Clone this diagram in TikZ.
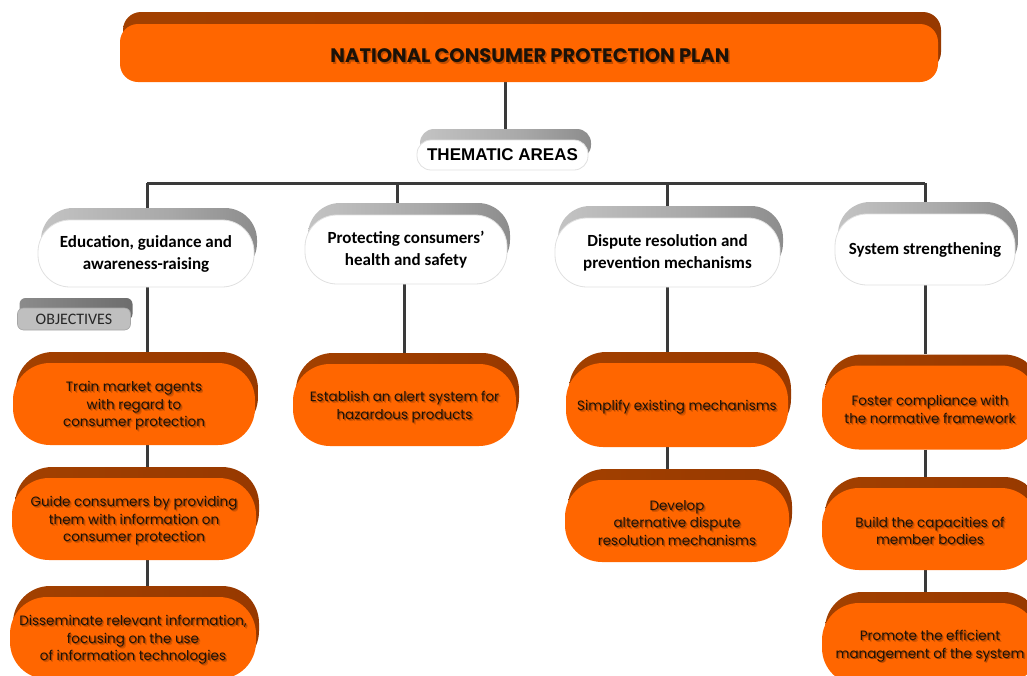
\documentclass[tikz,border=0pt]{standalone}
\usepackage{fontspec}
\usetikzlibrary{backgrounds}
\newfontfamily\gothic{Poppins}
\newfontfamily\calib{Carlito}
\newfontfamily\arialf{Liberation Sans}

\definecolor{orfront}{HTML}{FF6600}
\definecolor{orA}{HTML}{A84400}
\definecolor{orB}{HTML}{963800}
\definecolor{orC}{HTML}{4A1800}
\definecolor{grA}{HTML}{DADADA}
\definecolor{grB}{HTML}{A8A8A8}
\definecolor{grC}{HTML}{6A6A6A}
\definecolor{obA}{HTML}{9A9A9A}
\definecolor{obB}{HTML}{5E5E5E}
\definecolor{ink}{HTML}{1C1208}
\definecolor{wire}{HTML}{3A3A3A}

\pgfdeclarehorizontalshading{orbev}{100bp}{color(0bp)=(orA); color(80bp)=(orB); color(100bp)=(orC)}
\pgfdeclarehorizontalshading{grbev}{100bp}{color(0bp)=(grA); color(55bp)=(grB); color(100bp)=(grC)}
\pgfdeclarehorizontalshading{obbev}{100bp}{color(0bp)=(obA); color(100bp)=(obB)}

\tikzset{
  obback/.style={rectangle, rounded corners=37pt, inner sep=0pt, shade, shading=orbev},
  obfront/.style={rectangle, rounded corners=37pt, inner sep=0pt, fill=orfront},
  obtext/.style={font=\gothic\fontsize{13.5}{17.5}\selectfont, align=center, text=ink, inner sep=0pt},
  whback/.style={rectangle, rounded corners=32pt, inner sep=0pt, shade, shading=grbev},
  whfront/.style={rectangle, rounded corners=32pt, inner sep=0pt, fill=white, draw=black!12, line width=0.8pt,
     font=\calib\bfseries\fontsize{17}{22}\selectfont, align=center, text=black},
  conn/.style={draw=wire, line width=3pt},
}

% orange objective box: name, cx, cy, width, height, text
\newcommand\orbox[6]{%
  \node[obback, minimum width=#4pt, minimum height=#5pt, xshift=3pt, yshift=11pt] (#1b) at (#2,#3) {};
  \node[obfront, minimum width=#4pt, minimum height=#5pt] (#1) at (#2,#3) {};
  \node[obtext, text=black, opacity=.16, xshift=1.9pt, yshift=-3.9pt] (#1s) at (#2,#3) {#6};
  \node[obtext, text=black, opacity=.28, xshift=1pt, yshift=-3pt] (#1r) at (#2,#3) {#6};
  \node[obtext, yshift=-2pt] (#1t) at (#2,#3) {#6};
}
% white thematic box: name, cx, cy, width, height, text
\newcommand\whbox[6]{%
  \node[whback, minimum width=#4pt, minimum height=#5pt, xshift=3pt, yshift=12pt] (#1b) at (#2,#3) {};
  \node[whfront, minimum width=#4pt, minimum height=#5pt] (#1) at (#2,#3) {#6};
}

\begin{document}
\begin{tikzpicture}[x=1pt, y=-1pt]
\useasboundingbox (0,0) rectangle (1027,675);
\clip (0,0) rectangle (1027,675);

% title bar
\node[rectangle, rounded corners=18pt, minimum width=818pt, minimum height=58pt, shade, shading=orbev,
      xshift=3pt, yshift=12pt] (titleb) at (529,53) {};
\node[rectangle, rounded corners=18pt, minimum width=818pt, minimum height=58pt, fill=orfront] (title) at (529,53) {};
\node[font=\gothic\bfseries\fontsize{19.5}{22}\selectfont, text=black, opacity=.25, xshift=1.5pt, yshift=-1.5pt] (titles) at (530,56) {NATIONAL CONSUMER PROTECTION PLAN};
\node[font=\gothic\bfseries\fontsize{19.5}{22}\selectfont, text=ink] (titlet) at (530,56) {NATIONAL CONSUMER PROTECTION PLAN};

% thematic areas label
\node[rectangle, rounded corners=14pt, minimum width=171pt, minimum height=30pt, shade, shading=grbev,
      xshift=3pt, yshift=11pt] (themb) at (502.5,155) {};
\node[rectangle, rounded corners=14pt, minimum width=171pt, minimum height=30pt, fill=white, draw=black!12,
      line width=0.8pt, font=\arialf\bfseries\fontsize{17}{20}\selectfont] (them) at (502.5,155) {THEMATIC AREAS};

% thematic areas
\whbox{c1}{146}{253.5}{216}{67}{Education, guidance and\\awareness-raising}
\whbox{c2}{406}{249.5}{202}{69}{Protecting consumers’\\health and safety}
\whbox{c3}{667.5}{252.5}{225}{69}{Dispute resolution and\\prevention mechanisms}
\whbox{c4}{925}{249.5}{180}{71}{System strengthening}

% objectives tag
\node[rectangle, rounded corners=6pt, minimum width=113pt, minimum height=22pt, shade, shading=obbev,
      xshift=2pt, yshift=10pt] (objb) at (74,319) {};
\node[rectangle, rounded corners=6pt, minimum width=113pt, minimum height=22pt, fill=black!25, draw=black!35,
      line width=0.6pt, font=\calib\fontsize{16}{18}\selectfont, text=black!85] (obj) at (74,319) {OBJECTIVES};

% objectives
\orbox{o11}{134}{404}{242}{82}{Train market agents\\with regard to\\consumer protection}
\orbox{o12}{134}{519}{244}{82}{Guide consumers by providing\\them with information on\\consumer protection}
\orbox{o13}{133}{638}{246}{82}{Disseminate relevant information,\\focusing on the use\\of information technologies}
\orbox{o21}{404.5}{405}{223}{82}{Establish an alert system for\\hazardous products}
\orbox{o31}{677}{405}{222}{84}{Simplify existing mechanisms}
\orbox{o32}{677}{521}{224}{82}{Develop\\alternative dispute\\resolution mechanisms}
\orbox{o41}{930}{407.5}{216}{84}{Foster compliance with\\the normative framework}
\orbox{o42}{930}{529}{216}{82}{Build the capacities of\\member bodies}
\orbox{o43}{930}{644}{216}{82}{Promote the efficient\\management of the system}

% branching points on the distribution bar
\coordinate (busL) at (147,183);
\coordinate (d2) at (397,183);
\coordinate (d3) at (667,183);
\coordinate (busR) at (925,183);

\begin{pgfonlayer}{background}
  \draw[conn] (themb.north) -- (themb.north |- title.south);
  \draw[conn] (busL) -- (busR);
  \draw[conn] (busL) -- (busL |- c1b.north);
  \draw[conn] (d2) -- (d2 |- c2b.north);
  \draw[conn] (d3) -- (d3 |- c3b.north);
  \draw[conn] (busR) -- (busR |- c4b.north);
  % column 1
  \draw[conn] (c1.south -| busL) -- (o11b.north -| busL);
  \draw[conn] (o11.south -| busL) -- (o12b.north -| busL);
  \draw[conn] (o12.south -| busL) -- (o13b.north -| busL);
  % column 2
  \draw[conn] (c2.south -| o21.north) -- (o21b.north -| o21.north);
  % column 3
  \draw[conn] (c3.south -| d3) -- (o31b.north -| d3);
  \draw[conn] (o31.south -| d3) -- (o32b.north -| d3);
  % column 4
  \draw[conn] (c4.south -| busR) -- (o41b.north -| busR);
  \draw[conn] (o41.south -| busR) -- (o42b.north -| busR);
  \draw[conn] (o42.south -| busR) -- (o43b.north -| busR);
\end{pgfonlayer}
\end{tikzpicture}
\end{document}
